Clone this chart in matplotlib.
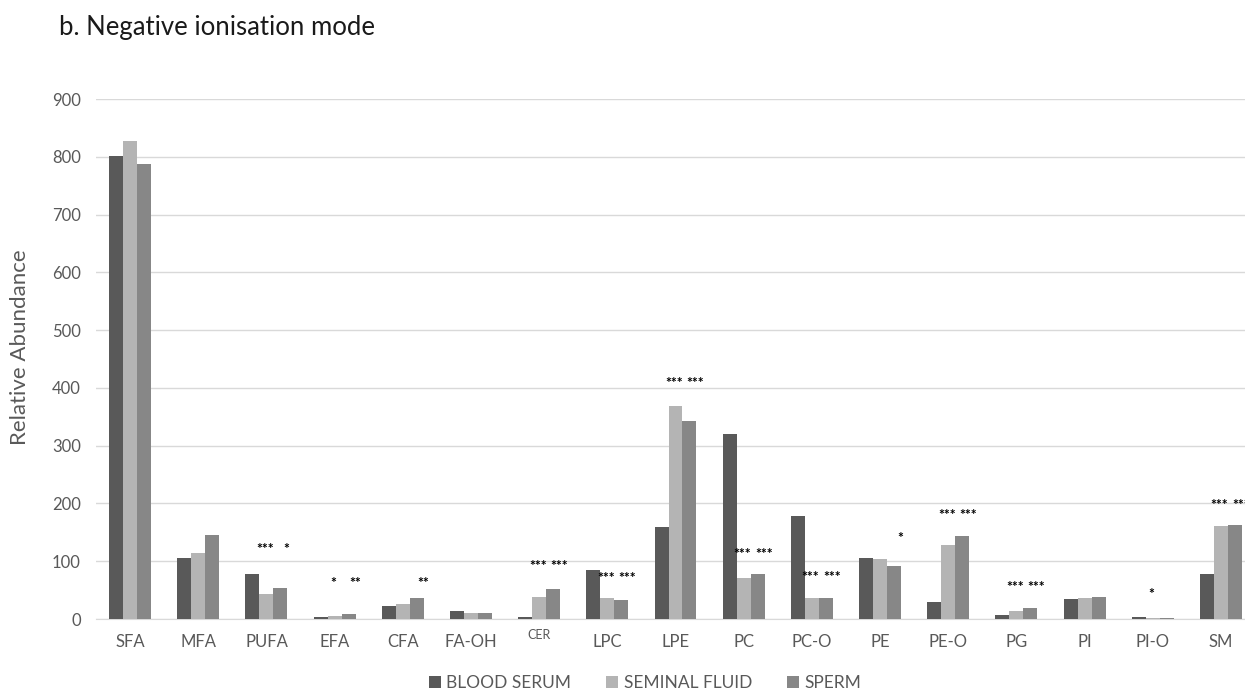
import matplotlib
matplotlib.use("Agg")
import matplotlib.pyplot as plt
import numpy as np

categories = ["SFA", "MFA", "PUFA", "EFA", "CFA", "FA-OH", "CER", "LPC", "LPE",
              "PC", "PC-O", "PE", "PE-O", "PG", "PI", "PI-O", "SM"]
blood_serum   = [801, 106, 78, 3.7, 22.5, 13.3, 3.5, 84, 160, 321, 177.5, 105.8, 30, 6.9, 35, 2.9, 77.7]
seminal_fluid = [828, 114, 44, 5, 26.5, 10.4, 38, 37, 369, 71, 36.4, 103.5, 128, 13.8, 36.8, 1.7, 161.7]
sperm         = [787, 146, 54, 8.6, 36.4, 11, 52.5, 33, 343, 77.5, 35.8, 92.5, 142.8, 19.6, 38, 1.7, 163.4]

# significance marks (vs blood serum) for seminal fluid and sperm, and the level they sit at
sig_seminal = ["", "", "***", "*", "", "", "***", "***", "***", "***", "***", "", "***", "***", "", "*", "***"]
sig_sperm   = ["", "", "*", "**", "**", "", "***", "***", "***", "***", "***", "*", "***", "***", "", "", "***"]
sig_level   = [None, None, 128, 68, 68, None, 97, 77, 414, 118.5, 78.6, 147, 185.5, 61.6, None, 49, 204]

series_names = ["BLOOD SERUM", "SEMINAL FLUID", "SPERM"]
colors = ["#595959", "#b4b4b4", "#878787"]

plt.rcParams['font.family'] = ['Lato', 'DejaVu Sans']

fig = plt.figure(figsize=(12.45, 6.91), dpi=100)
ax = fig.add_axes([96/1245, 72/691, (1255-96)/1245, (619-99)/691])

x = np.arange(len(categories))
w = 0.205
data = [blood_serum, seminal_fluid, sperm]
for i, (vals, name, c) in enumerate(zip(data, series_names, colors)):
    ax.bar(x + (i - 1) * w, vals, width=w, color=c, label=name, zorder=3)

for xi, s1, s2, lvl in zip(x, sig_seminal, sig_sperm, sig_level):
    if lvl is None:
        continue
    if s1:
        ax.text(xi - 0.02, lvl - 6, s1, ha='center', va='center', fontsize=10,
                fontweight='bold', color='black', zorder=4)
    if s2:
        ax.text(xi + w + 0.09, lvl - 6, s2, ha='center', va='center', fontsize=10,
                fontweight='bold', color='black', zorder=4)

ax.set_xlim(-0.5, len(categories) - 0.5)
ax.set_ylim(0, 900)
ax.set_yticks(range(0, 901, 100))
ax.set_xticks(x)
ax.set_xticklabels(categories)
ax.grid(axis='y', color='#d9d9d9', linewidth=1, zorder=0)
for sp in ['top', 'right', 'left']:
    ax.spines[sp].set_visible(False)
ax.spines['bottom'].set_color('#d9d9d9')
ax.tick_params(axis='y', length=0, pad=11, labelsize=12, labelcolor='#595959')
ax.tick_params(axis='x', length=0, pad=11, labelsize=12, labelcolor='#595959')
# CER label is smaller in the reference
for lab in ax.get_xticklabels():
    if lab.get_text() == "CER":
        lab.set_fontsize(9)
        lab.set_y(0.01)

fig.text(20/1245, 1 - 347/691, "Relative Abundance", fontsize=16, color='#595959',
         rotation=90, ha='center', va='center')

fig.text(59/1245, 1 - 28/691, "b. Negative ionisation mode", fontsize=18.5,
         color='#1a1a1a', ha='left', va='center')

handles, labels = ax.get_legend_handles_labels()
fig.legend(handles, labels, loc='center', bbox_to_anchor=(645/1245, 1 - 683/691),
           ncol=3, frameon=False, fontsize=12.5, handlelength=0.7, handleheight=0.7,
           columnspacing=2.0, handletextpad=0.3, labelcolor='#595959')

fig.savefig("out.png", dpi=100)
